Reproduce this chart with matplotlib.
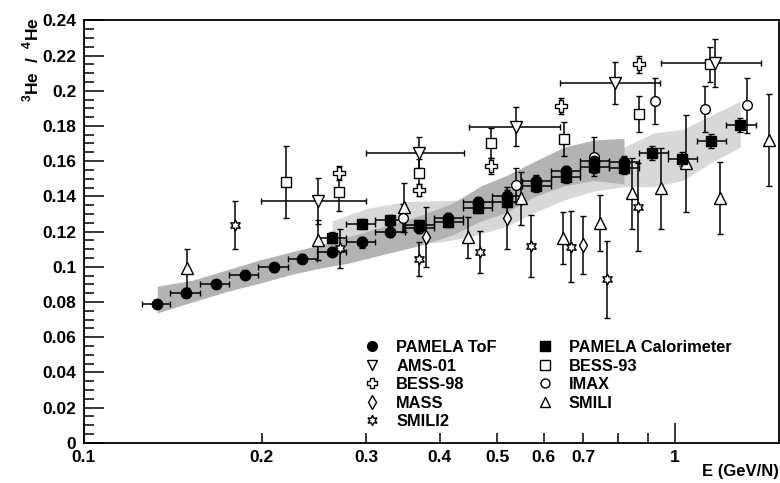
import numpy as np
import matplotlib.pyplot as plt
from matplotlib.lines import Line2D
from matplotlib.ticker import FixedLocator, FixedFormatter, MultipleLocator

plt.rcParams['font.family'] = ['Liberation Sans', 'DejaVu Sans']
plt.rcParams['font.weight'] = 'bold'
plt.rcParams['mathtext.fontset'] = 'custom'
plt.rcParams['mathtext.rm'] = 'Liberation Sans:bold'
plt.rcParams['mathtext.bf'] = 'Liberation Sans:bold'

# common energy binning of the PAMELA analyses (GeV/N)
bin_edges = [0.1256, 0.140, 0.157, 0.176, 0.197, 0.221, 0.248, 0.278, 0.311, 0.349,
             0.391, 0.438, 0.491, 0.550, 0.617, 0.691, 0.774, 0.868, 0.972, 1.09,
             1.22, 1.37]

# PAMELA ToF
tof_e   = [0.133, 0.149, 0.167, 0.187, 0.210, 0.234, 0.263, 0.295, 0.329, 0.369,
           0.413, 0.464, 0.520, 0.582, 0.653, 0.730, 0.820]
tof_r   = [0.0788, 0.0852, 0.0902, 0.0955, 0.0997, 0.1045, 0.1085, 0.1139, 0.1199, 0.1222,
           0.1274, 0.1366, 0.1403, 0.1489, 0.1545, 0.1602, 0.1593]
tof_err = [0.0025, 0.0025, 0.0025, 0.0025, 0.0025, 0.0025, 0.0025, 0.003, 0.003, 0.003,
           0.003, 0.003, 0.003, 0.003, 0.003, 0.0035, 0.0035]

# PAMELA Calorimeter
cal_e   = [0.263, 0.295, 0.329, 0.369, 0.413, 0.464, 0.520, 0.582, 0.653, 0.730,
           0.820, 0.916, 1.029, 1.153, 1.289]
cal_r   = [0.1165, 0.1243, 0.1265, 0.1237, 0.1254, 0.1335, 0.1370, 0.1458, 0.1511, 0.1568,
           0.1563, 0.1644, 0.1610, 0.1716, 0.1803]
cal_err = [0.003, 0.003, 0.003, 0.003, 0.003, 0.003, 0.003, 0.0035, 0.0035, 0.0035,
           0.0035, 0.004, 0.004, 0.004, 0.004]

# systematic bands
tof_band_e  = [0.133, 0.153, 0.174, 0.198, 0.225, 0.250, 0.28, 0.33, 0.37, 0.42,
               0.47, 0.52, 0.58, 0.65, 0.73, 0.82]
tof_band_hi = [0.0889, 0.0924, 0.0981, 0.1038, 0.1085, 0.1123, 0.117, 0.124, 0.129, 0.136,
               0.146, 0.152, 0.160, 0.168, 0.172, 0.173]
tof_band_lo = [0.0737, 0.0801, 0.0858, 0.0906, 0.0957, 0.0991, 0.102, 0.108, 0.112, 0.118,
               0.126, 0.131, 0.140, 0.146, 0.149, 0.147]

cal_band_e  = [0.263, 0.30, 0.35, 0.40, 0.45, 0.52, 0.58, 0.65, 0.73, 0.82,
               0.92, 1.03, 1.15, 1.29]
cal_band_hi = [0.126, 0.133, 0.137, 0.1375, 0.138, 0.148, 0.155, 0.162, 0.166, 0.168,
               0.176, 0.178, 0.186, 0.194]
cal_band_lo = [0.106, 0.112, 0.113, 0.114, 0.117, 0.123, 0.131, 0.138, 0.143, 0.1455,
               0.1455, 0.149, 0.159, 0.168]

# other experiments
ams_e   = [0.249, 0.369, 0.538, 0.791, 1.17]
ams_r   = [0.1375, 0.1648, 0.1795, 0.2042, 0.2156]
ams_err = [0.013, 0.009, 0.011, 0.012, 0.0135]
ams_elo = [0.199, 0.300, 0.448, 0.640, 0.948]
ams_ehi = [0.300, 0.440, 0.640, 0.945, 1.40]

bess93_e   = [0.220, 0.270, 0.369, 0.489, 0.649, 0.869, 1.146]
bess93_r   = [0.1483, 0.1426, 0.1534, 0.1701, 0.1726, 0.1868, 0.2150]
bess93_err = [0.0205, 0.011, 0.0076, 0.0085, 0.0095, 0.010, 0.010]

bess98_e   = [0.270, 0.369, 0.489, 0.641, 0.869]
bess98_r   = [0.1531, 0.1436, 0.1572, 0.1913, 0.2150]
bess98_err = [0.004, 0.0035, 0.0047, 0.0048, 0.005]

imax_e   = [0.346, 0.539, 0.730, 0.926, 1.124, 1.322]
imax_r   = [0.1275, 0.1464, 0.1625, 0.1941, 0.1896, 0.1917]
imax_err = [0.008, 0.0095, 0.011, 0.013, 0.013, 0.0156]

mass_e   = [0.379, 0.520, 0.700]
mass_r   = [0.1167, 0.1275, 0.1123]
mass_err = [0.017, 0.0175, 0.0166]

smili_e   = [0.1496, 0.249, 0.348, 0.4465, 0.549, 0.647, 0.748, 0.847, 0.948, 1.045, 1.194, 1.444]
smili_r   = [0.0991, 0.1151, 0.1337, 0.1167, 0.1389, 0.1161, 0.1247, 0.1417, 0.1445, 0.1588, 0.1389, 0.1720]
smili_err = [0.011, 0.0115, 0.014, 0.0115, 0.015, 0.0148, 0.0158, 0.020, 0.023, 0.0275, 0.0204, 0.0263]

smili2_e   = [0.1803, 0.2716, 0.369, 0.4685, 0.570, 0.666, 0.766, 0.866]
smili2_r   = [0.1237, 0.1105, 0.1042, 0.1085, 0.1118, 0.1114, 0.0928, 0.1337]
smili2_err = [0.0138, 0.011, 0.0097, 0.012, 0.0176, 0.020, 0.022, 0.025]

y_ticks  = [0, 0.02, 0.04, 0.06, 0.08, 0.1, 0.12, 0.14, 0.16, 0.18, 0.2, 0.22, 0.24]
y_labels = ['0', '0.02', '0.04', '0.06', '0.08', '0.1', '0.12', '0.14', '0.16', '0.18',
            '0.2', '0.22', '0.24']
x_major  = [0.1, 1]
x_minor  = [0.2, 0.3, 0.4, 0.5, 0.6, 0.7, 0.8, 0.9]
x_minor_labels = ['0.2', '0.3', '0.4', '0.5', '0.6', '0.7', '', '']

W, H = 780, 483
fig = plt.figure(figsize=(W / 100, H / 100), dpi=100)
ax = fig.add_axes([84 / W, 1 - 442.7 / H, 695 / W, 422.4 / H])
ax.set_xscale('log')

# systematic bands, calorimeter underneath ToF
ax.fill_between(cal_band_e, cal_band_lo, cal_band_hi, color='#d8d8d8', lw=0, zorder=1)
ax.fill_between(tof_band_e, tof_band_lo, tof_band_hi, color='#b3b3b3', lw=0, zorder=1.5)


def draw(e, r, err, marker, ms, filled=False, xlo=None, xhi=None):
    e = np.asarray(e)
    xerr = None
    if xlo is not None:
        xerr = [e - np.asarray(xlo), np.asarray(xhi) - e]
    ax.errorbar(e, r, yerr=err, xerr=xerr, ls='none', marker=marker, ms=ms,
                mfc='black' if filled else 'white', mec='black', mew=1.0,
                ecolor='black', elinewidth=1.1, capsize=2.5, capthick=1.1, zorder=3)


tof_edges = np.array(bin_edges[:len(tof_e) + 1])
cal_edges = np.array(bin_edges[6:6 + len(cal_e) + 1])

draw(smili2_e, smili2_r, smili2_err, (6, 1, 0), 8)
draw(smili_e, smili_r, smili_err, '^', 8.5)
draw(mass_e, mass_r, mass_err, 'd', 7.5)
draw(imax_e, imax_r, imax_err, 'o', 7)
draw(bess98_e, bess98_r, bess98_err, 'P', 8)
draw(bess93_e, bess93_r, bess93_err, 's', 7)
draw(ams_e, ams_r, ams_err, 'v', 8.5, xlo=ams_elo, xhi=ams_ehi)
draw(cal_e, cal_r, cal_err, 's', 7, filled=True, xlo=cal_edges[:-1], xhi=cal_edges[1:])
draw(tof_e, tof_r, tof_err, 'o', 7.5, filled=True, xlo=tof_edges[:-1], xhi=tof_edges[1:])

ax.set_xlim(0.1, 1.5)
ax.set_ylim(0, 0.24)

ax.xaxis.set_major_locator(FixedLocator(x_major))
ax.xaxis.set_major_formatter(FixedFormatter(['0.1', '1']))
ax.xaxis.set_minor_locator(FixedLocator(x_minor))
ax.xaxis.set_minor_formatter(FixedFormatter(x_minor_labels))
ax.yaxis.set_major_locator(FixedLocator(y_ticks))
ax.yaxis.set_major_formatter(FixedFormatter(y_labels))
ax.yaxis.set_minor_locator(MultipleLocator(0.005))

ax.tick_params(which='both', direction='in', top=False, right=False,
               width=1.1, labelsize=12.5)
ax.tick_params(axis='y', which='both', pad=5.5)
ax.tick_params(axis='x', which='both', pad=5)
ax.tick_params(which='major', length=14.5)
ax.tick_params(which='minor', length=7.2)
for lab in ax.get_xticklabels(which='both') + ax.get_yticklabels():
    lab.set_fontweight('bold')
for sp in ax.spines.values():
    sp.set_linewidth(1.3)

ax.set_ylabel(r'$^{3}$He  /  $^{4}$He', fontsize=12.5, fontweight='bold', loc='top')
ax.yaxis.set_label_coords(-0.061, 1.007)
ax.set_xlabel('E (GeV/N)', fontsize=12, fontweight='bold', loc='right')
ax.xaxis.set_label_coords(1.0, -0.05)


# marker-only legend entries
def entry(marker, ms, filled=False):
    return Line2D([], [], ls='none', marker=marker, ms=ms, mec='black', mew=1.0,
                  mfc='black' if filled else 'white')


handles = [entry('o', 7, True), entry('v', 7.5), entry('P', 7), entry('d', 7),
           entry((6, 1, 0), 7.5), entry('s', 6.5, True), entry('s', 7),
           entry('o', 6.5), entry('^', 7.5)]
labels = ['PAMELA ToF', 'AMS-01', 'BESS-98', 'MASS', 'SMILI2',
          'PAMELA Calorimeter', 'BESS-93', 'IMAX', 'SMILI']
ax.legend(handles, labels, ncol=2, frameon=False, loc='upper left',
          bbox_to_anchor=((356 - 84) / 695, (442.7 - 332) / 422.4),
          prop={'size': 11.8, 'weight': 'bold'}, handlelength=1.0,
          handletextpad=0.95, columnspacing=2.45, labelspacing=0.21, borderpad=0)

fig.savefig('out.png', dpi=100)
